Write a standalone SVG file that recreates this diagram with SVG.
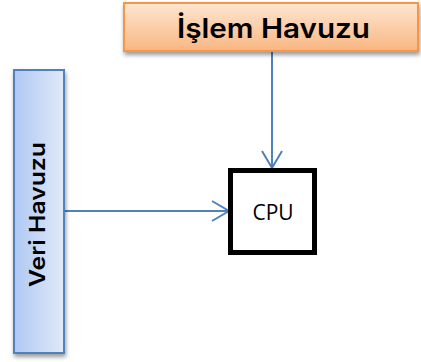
<svg xmlns="http://www.w3.org/2000/svg" width="421" height="362" viewBox="0 0 421 362">
<defs>
<linearGradient id="gOrange" x1="0" y1="0" x2="0" y2="1">
<stop offset="0" stop-color="#FEE6D2"/>
<stop offset="1" stop-color="#F9B681"/>
</linearGradient>
<linearGradient id="gBlue" x1="0" y1="0" x2="1" y2="0">
<stop offset="0" stop-color="#AFC8F3"/>
<stop offset="1" stop-color="#E1E9F9"/>
</linearGradient>
<filter id="sh" x="-20%" y="-20%" width="140%" height="140%">
<feGaussianBlur in="SourceAlpha" stdDeviation="2"/>
<feOffset dx="1" dy="3" result="b"/>
<feComponentTransfer><feFuncA type="linear" slope="0.4"/></feComponentTransfer>
<feMerge><feMergeNode/><feMergeNode in="SourceGraphic"/></feMerge>
</filter>
<marker id="arr" markerWidth="20" markerHeight="24" refX="18" refY="11" orient="auto" markerUnits="userSpaceOnUse">
<path d="M1,1 L18,11 L1,21" fill="none" stroke="#4F81BD" stroke-width="2"/>
</marker>
<style>
.lbl{font-family:Inter,"Open Sans","Liberation Sans",sans-serif;font-weight:600;fill:#000}
.conn{stroke:#4F81BD;stroke-width:2;fill:none}
</style>
</defs>
<g id="connectors">
<line class="conn" x1="272" y1="52" x2="272" y2="168" marker-end="url(#arr)"/>
<line class="conn" x1="64" y1="211" x2="229" y2="211" marker-end="url(#arr)"/>
</g>
<g id="islem-havuzu">
<rect x="124" y="3" width="294" height="48" fill="url(#gOrange)" stroke="#F79646" stroke-width="2" filter="url(#sh)"/>
<text class="lbl" x="273.5" y="38" font-size="27" text-anchor="middle" textLength="193" lengthAdjust="spacingAndGlyphs">İşlem Havuzu</text>
</g>
<g id="veri-havuzu">
<rect x="14" y="70" width="50" height="283" fill="url(#gBlue)" stroke="#4F81BD" stroke-width="2" filter="url(#sh)"/>
<text class="lbl" transform="translate(45,214.5) rotate(-90)" x="0" y="0" font-size="22" text-anchor="middle" textLength="145" lengthAdjust="spacingAndGlyphs">Veri Havuzu</text>
</g>
<g id="cpu">
<rect x="230.5" y="170.5" width="84" height="82" fill="#fff" stroke="#000" stroke-width="5"/>
<text x="273" y="220" font-size="21" text-anchor="middle" font-family="'Open Sans','Liberation Sans',sans-serif" fill="#000">CPU</text>
</g>
</svg>
